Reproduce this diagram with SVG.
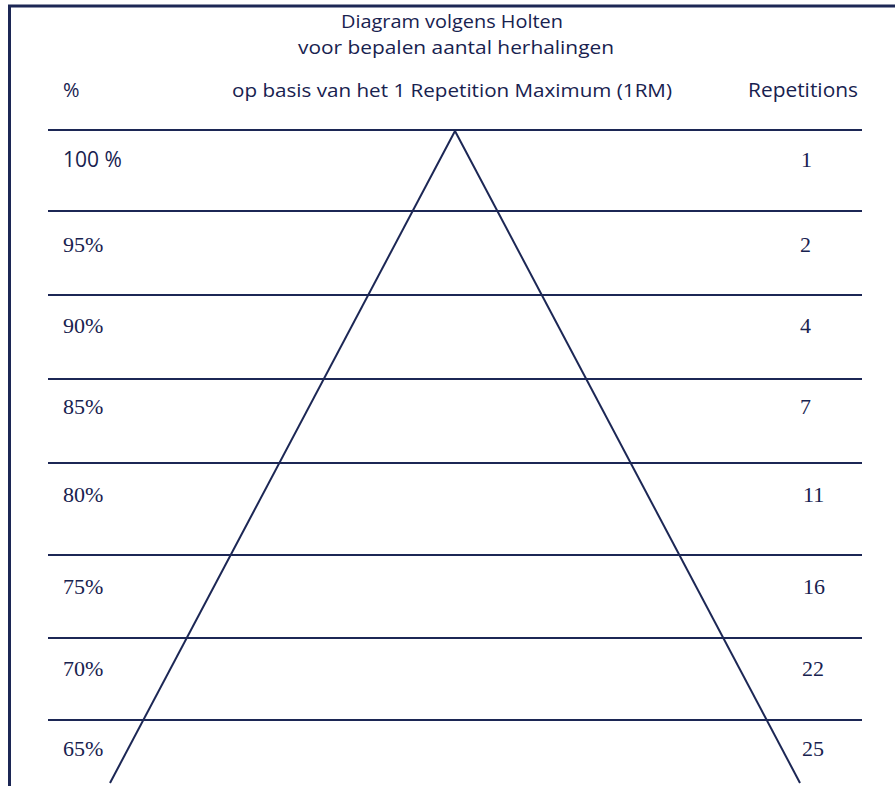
<svg xmlns="http://www.w3.org/2000/svg" width="895" height="786" viewBox="0 0 895 786">
<style>
.ln{stroke:#1c2755;stroke-width:2;fill:none}
.bd{stroke:#1c2755;stroke-width:3;fill:none}
.t{font-family:"Open Sans","Liberation Sans",sans-serif;fill:#18224f;font-size:19px}
.n{font-family:"Liberation Serif",serif;fill:#18224f;font-size:22px}
</style>
<rect width="895" height="786" fill="#ffffff"/>
<g id="border">
<polyline class="bd" points="9.5,786 9.5,6 895,6"/>
</g>
<g id="title">
<text class="t" x="452" y="28" text-anchor="middle" textLength="222" lengthAdjust="spacingAndGlyphs">Diagram volgens Holten</text>
<text class="t" x="456" y="54" text-anchor="middle" textLength="316" lengthAdjust="spacingAndGlyphs">voor bepalen aantal herhalingen</text>
<text class="t" x="452" y="97" text-anchor="middle" textLength="440" lengthAdjust="spacingAndGlyphs">op basis van het 1 Repetition Maximum (1RM)</text>
<text class="t" x="63" y="97" style="font-size:20px">%</text>
<text class="t" x="748" y="97" style="font-size:20px" textLength="110" lengthAdjust="spacingAndGlyphs">Repetitions</text>
</g>
<g id="rows">
<line class="ln" x1="48" y1="130" x2="862" y2="130"/>
<line class="ln" x1="48" y1="211" x2="862" y2="211"/>
<line class="ln" x1="48" y1="295" x2="862" y2="295"/>
<line class="ln" x1="48" y1="379" x2="862" y2="379"/>
<line class="ln" x1="48" y1="463" x2="862" y2="463"/>
<line class="ln" x1="48" y1="555" x2="862" y2="555"/>
<line class="ln" x1="48" y1="638" x2="862" y2="638"/>
<line class="ln" x1="48" y1="720" x2="862" y2="720"/>
</g>
<g id="connectors">
<line class="ln" x1="455" y1="131" x2="110" y2="783"/>
<line class="ln" x1="455" y1="131" x2="800" y2="783"/>
</g>
<g id="labels-left">
<text class="t" x="63" y="167" style="font-size:21px">100 %</text>
<text class="n" x="63" y="252">95%</text>
<text class="n" x="63" y="333">90%</text>
<text class="n" x="63" y="414">85%</text>
<text class="n" x="63" y="502">80%</text>
<text class="n" x="63" y="594">75%</text>
<text class="n" x="63" y="676">70%</text>
<text class="n" x="63" y="756">65%</text>
</g>
<g id="labels-right">
<text class="n" x="801" y="167">1</text>
<text class="n" x="800" y="252">2</text>
<text class="n" x="800" y="333">4</text>
<text class="n" x="800" y="414">7</text>
<text class="n" x="803" y="502">11</text>
<text class="n" x="803" y="594">16</text>
<text class="n" x="802" y="676">22</text>
<text class="n" x="802" y="756">25</text>
</g>
</svg>
